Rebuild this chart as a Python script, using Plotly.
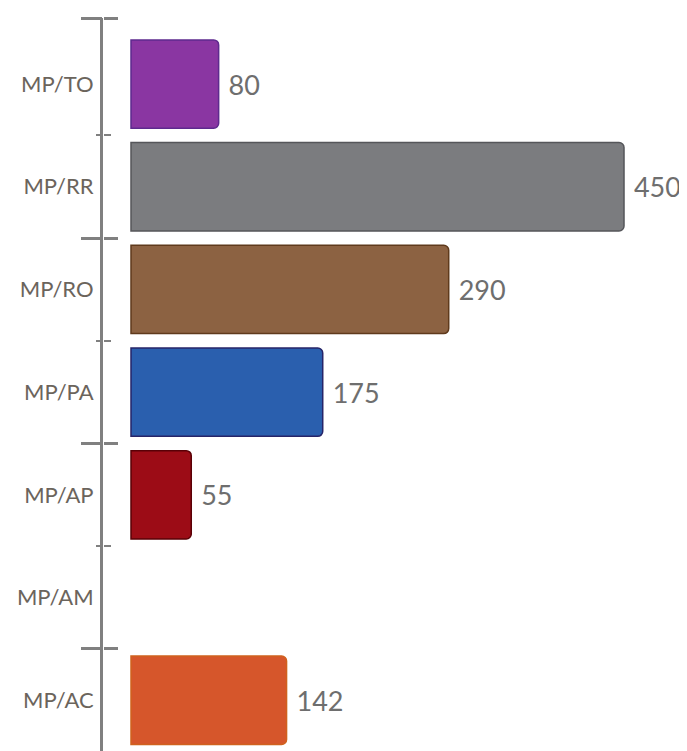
import plotly.graph_objects as go

categories = ["MP/TO", "MP/RR", "MP/RO", "MP/PA", "MP/AP", "MP/AM", "MP/AC"]
values = [80, 450, 290, 175, 55, None, 142]
value_labels = ["80", "450", "290", "175", "55", "", "142"]
bar_colors = ["#8a36a2", "#7b7c7f", "#8c6242", "#2a5fae", "#9c0c16", "#ffffff", "#d6562b"]
edge_colors = ["#5e2a8e", "#55565a", "#5f3a1c", "#262468", "#5a0006", "#ffffff", "#d0621e"]

positions = list(range(len(categories)))
long_ticks = [-0.64, 1.5, 3.5, 5.5]
short_ticks = [0.5, 2.5, 4.5]

y_range = [6.494, -0.643]
x_range = [-25.56, 507.5]

fig = go.Figure()
fig.add_trace(go.Bar(
    y=positions, x=values, orientation="h",
    width=0.86,
    marker=dict(color=bar_colors, line=dict(color=edge_colors, width=1.5), cornerradius=5),
    text=[" " + t if t else "" for t in value_labels],
    textposition="outside",
    textfont=dict(family="Lato", size=27, color="#6e6e6e"),
    cliponaxis=False,
    hoverinfo="skip",
    showlegend=False,
))
for ya in ["y2", "y3"]:
    fig.add_trace(go.Scatter(x=[None], y=[None], yaxis=ya, showlegend=False, hoverinfo="skip"))

axis_gray = "#808080"
# page body has an 8px default margin, so the figure is offset by 8px
fig.update_layout(
    width=679, height=743,
    margin=dict(l=95, r=0, t=10, b=0, autoexpand=False),
    paper_bgcolor="white", plot_bgcolor="white",
    xaxis=dict(range=x_range, visible=False, fixedrange=True, automargin=False),
    yaxis=dict(
        range=y_range, tickmode="array", tickvals=positions, ticktext=categories,
        ticks="", showline=True, linecolor=axis_gray, linewidth=3,
        tickfont=dict(family="Lato", size=22, color="#6b645c"),
        ticklabelstandoff=2, showgrid=False, zeroline=False, automargin=False,
    ),
    yaxis2=dict(
        range=y_range, overlaying="y", side="left", anchor="x",
        tickmode="array", tickvals=long_ticks, ticks="outside", ticklen=21,
        tickwidth=3, tickcolor=axis_gray, showticklabels=False,
        showgrid=False, zeroline=False, showline=False, automargin=False,
        minor=dict(tickmode="array", tickvals=short_ticks, ticks="outside",
                   ticklen=6, tickwidth=2, tickcolor=axis_gray),
    ),
    yaxis3=dict(
        range=y_range, overlaying="y", side="right", anchor="free", position=0,
        tickmode="array", tickvals=long_ticks, ticks="outside", ticklen=14,
        tickwidth=3, tickcolor=axis_gray, showticklabels=False,
        showgrid=False, zeroline=False, showline=False, automargin=False,
        minor=dict(tickmode="array", tickvals=short_ticks, ticks="outside",
                   ticklen=7, tickwidth=2, tickcolor=axis_gray),
    ),
)

fig.write_html("out.html")
